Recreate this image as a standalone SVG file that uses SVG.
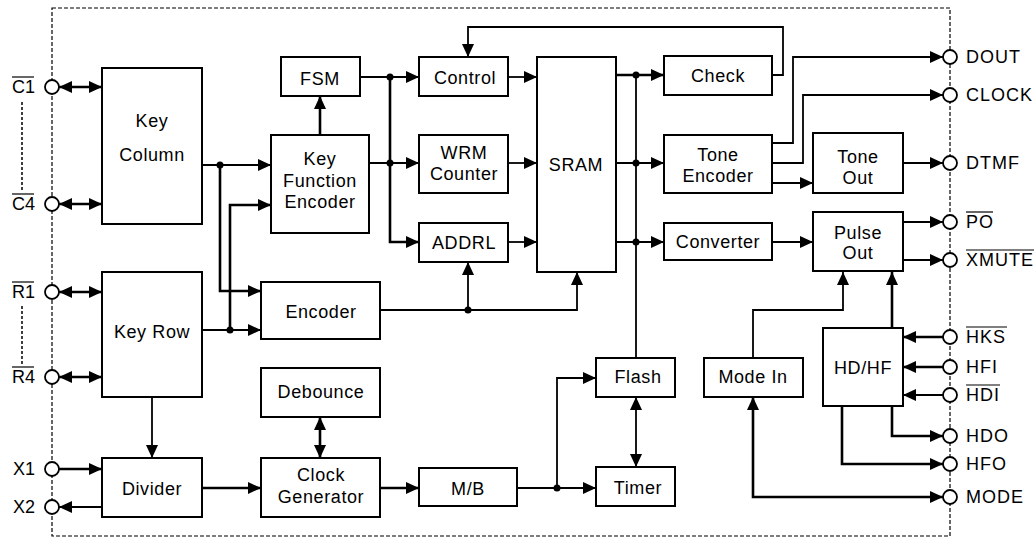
<svg xmlns="http://www.w3.org/2000/svg" width="1034" height="538" viewBox="0 0 1034 538">
<style>
.b{fill:#fff;stroke:#000;stroke-width:2}
.t{font-family:"Liberation Sans",Arial,sans-serif;font-size:18px;letter-spacing:0.6px;fill:#000;text-anchor:middle}
.p{font-family:"Liberation Sans",Arial,sans-serif;font-size:18px;letter-spacing:1px;fill:#000}
.l{font-family:"Liberation Sans",Arial,sans-serif;font-size:18px;fill:#000;text-anchor:end}
.c{fill:none;stroke:#000;stroke-width:1.8}
.k{stroke-width:2.6}
.a{marker-end:url(#ah)}
.s{marker-start:url(#ah)}
.pin{fill:#fff;stroke:#000;stroke-width:1.8}
.d{fill:#000}
.ol{stroke:#000;stroke-width:1.2}
</style>
<defs>
<marker id="ah" markerUnits="userSpaceOnUse" markerWidth="13" markerHeight="12" refX="13" refY="6" orient="auto-start-reverse">
<path d="M0,0 L13,6 L0,12 z" fill="#000"/>
</marker>
</defs>
<rect x="52" y="8" width="898" height="528" fill="none" stroke="#000" stroke-width="1.2" stroke-dasharray="4,2"/>
<g id="connectors">
<path class="c k a s" d="M59,87 H102"/>
<path class="c k a s" d="M59,204 H102"/>
<path class="c k a s" d="M59,292 H102"/>
<path class="c k a s" d="M59,377 H102"/>
<path class="c k a" d="M59,469 H102"/>
<path class="c a" d="M102,507 H59"/>
<path class="c a" d="M152,397 V458"/>
<path class="c a" d="M202,165 H271"/>
<path class="c k a" d="M220,165 V291 H261"/>
<path class="c a" d="M202,330 H261"/>
<path class="c k a" d="M230,330 V205 H271"/>
<path class="c k a" d="M320,135 V96"/>
<path class="c a" d="M360,77 H419"/>
<path class="c a" d="M369,163 H419"/>
<path class="c k a" d="M390,77 V242 H419"/>
<path class="c a" d="M508,77 H537"/>
<path class="c a" d="M508,163 H537"/>
<path class="c a" d="M508,242 H537"/>
<path class="c a" d="M380,310 H577 V272"/>
<path class="c a" d="M468,310 V262"/>
<path class="c k a" d="M616,75 H664"/>
<path class="c a" d="M616,163 H664"/>
<path class="c a" d="M616,242 H664"/>
<path class="c" d="M636,75 V358"/>
<path class="c a" d="M772,75 H783 V27 H468 V57"/>
<path class="c a" d="M772,143 H793 V57 H943"/>
<path class="c a" d="M772,163 H803 V95 H943"/>
<path class="c a" d="M772,183 H813"/>
<path class="c a" d="M903,163 H943"/>
<path class="c a" d="M772,242 H813"/>
<path class="c a" d="M903,222 H943"/>
<path class="c a" d="M903,260 H943"/>
<path class="c k a" d="M202,488 H261"/>
<path class="c k a s" d="M320,417 V458"/>
<path class="c k a" d="M380,488 H419"/>
<path class="c a" d="M517,488 H596"/>
<path class="c a" d="M557,488 V378 H596"/>
<path class="c a s" d="M636,397 V467"/>
<path class="c a" d="M753,358 V310 H843 V272"/>
<path class="c k a s" d="M753,397 V497 H943"/>
<path class="c k a" d="M892,328 V272"/>
<path class="c k a" d="M943,337 H903"/>
<path class="c k a" d="M943,367 H903"/>
<path class="c a" d="M943,395 H903"/>
<path class="c k a" d="M892,406 V436 H943"/>
<path class="c k a" d="M842,406 V464 H943"/>
<circle class="d" cx="220" cy="165" r="3.5"/>
<circle class="d" cx="230" cy="330" r="3.5"/>
<circle class="d" cx="390" cy="77" r="3.5"/>
<circle class="d" cx="390" cy="163" r="3.5"/>
<circle class="d" cx="468" cy="310" r="3.5"/>
<circle class="d" cx="636" cy="75" r="3.5"/>
<circle class="d" cx="636" cy="163" r="3.5"/>
<circle class="d" cx="636" cy="242" r="3.5"/>
<circle class="d" cx="557" cy="488" r="3.5"/>
<line x1="22" y1="102" x2="22" y2="190" stroke="#000" stroke-width="1.5" stroke-dasharray="3,2"/>
<line x1="22" y1="306" x2="22" y2="364" stroke="#000" stroke-width="1.5" stroke-dasharray="3,2"/>
</g>
<g id="pins-left">
<circle class="pin" cx="52" cy="87" r="7"/>
<circle class="pin" cx="52" cy="204" r="7"/>
<circle class="pin" cx="52" cy="292" r="7"/>
<circle class="pin" cx="52" cy="377" r="7"/>
<circle class="pin" cx="52" cy="469" r="7"/>
<circle class="pin" cx="52" cy="507" r="7"/>
<text class="l" x="35" y="93">C1</text><line class="ol" x1="12" y1="77" x2="34" y2="77"/>
<text class="l" x="35" y="210">C4</text><line class="ol" x1="12" y1="194" x2="34" y2="194"/>
<text class="l" x="35" y="298">R1</text><line class="ol" x1="12" y1="282" x2="34" y2="282"/>
<text class="l" x="35" y="383">R4</text><line class="ol" x1="12" y1="367" x2="34" y2="367"/>
<text class="l" x="35" y="475">X1</text>
<text class="l" x="35" y="513">X2</text>
</g>
<g id="pins-right">
<circle class="pin" cx="950" cy="57" r="7"/>
<circle class="pin" cx="950" cy="95" r="7"/>
<circle class="pin" cx="950" cy="163" r="7"/>
<circle class="pin" cx="950" cy="222" r="7"/>
<circle class="pin" cx="950" cy="260" r="7"/>
<circle class="pin" cx="950" cy="337" r="7"/>
<circle class="pin" cx="950" cy="367" r="7"/>
<circle class="pin" cx="950" cy="395" r="7"/>
<circle class="pin" cx="950" cy="436" r="7"/>
<circle class="pin" cx="950" cy="464" r="7"/>
<circle class="pin" cx="950" cy="497" r="7"/>
<text class="p" x="966" y="63">DOUT</text>
<text class="p" x="966" y="101">CLOCK</text>
<text class="p" x="966" y="169">DTMF</text>
<text class="p" x="966" y="228">PO</text><line class="ol" x1="966" y1="212" x2="993" y2="212"/>
<text class="p" x="966" y="266">XMUTE</text><line class="ol" x1="966" y1="250" x2="1034" y2="250"/>
<text class="p" x="966" y="343">HKS</text><line class="ol" x1="966" y1="327" x2="1007" y2="327"/>
<text class="p" x="966" y="373">HFI</text>
<text class="p" x="966" y="401">HDI</text><line class="ol" x1="966" y1="385" x2="1000" y2="385"/>
<text class="p" x="966" y="442">HDO</text>
<text class="p" x="966" y="470">HFO</text>
<text class="p" x="966" y="503">MODE</text>
</g>
<g id="key-column"><rect class="b" x="102" y="68" width="100" height="156"/><text class="t" x="152" y="127">Key</text><text class="t" x="152" y="161">Column</text></g>
<g id="key-row"><rect class="b" x="102" y="272" width="100" height="125"/><text class="t" x="152" y="338">Key Row</text></g>
<g id="divider"><rect class="b" x="102" y="458" width="100" height="59"/><text class="t" x="152" y="495">Divider</text></g>
<g id="kfe"><rect class="b" x="271" y="135" width="98" height="98"/><text class="t" x="320" y="165">Key</text><text class="t" x="320" y="187">Function</text><text class="t" x="320" y="208">Encoder</text></g>
<g id="fsm"><rect class="b" x="281" y="57" width="79" height="39"/><text class="t" x="320" y="85">FSM</text></g>
<g id="control"><rect class="b" x="419" y="57" width="89" height="39"/><text class="t" x="465" y="84">Control</text></g>
<g id="wrm"><rect class="b" x="419" y="135" width="89" height="58"/><text class="t" x="464" y="159">WRM</text><text class="t" x="464" y="180">Counter</text></g>
<g id="addrl"><rect class="b" x="419" y="223" width="89" height="39"/><text class="t" x="464" y="249">ADDRL</text></g>
<g id="sram"><rect class="b" x="537" y="57" width="79" height="215"/><text class="t" x="576" y="171">SRAM</text></g>
<g id="check"><rect class="b" x="664" y="56" width="108" height="39"/><text class="t" x="718" y="82">Check</text></g>
<g id="tone-encoder"><rect class="b" x="664" y="135" width="108" height="58"/><text class="t" x="718" y="161">Tone</text><text class="t" x="718" y="182">Encoder</text></g>
<g id="converter"><rect class="b" x="664" y="223" width="108" height="37"/><text class="t" x="718" y="248">Converter</text></g>
<g id="tone-out"><rect class="b" x="813" y="133" width="90" height="60"/><text class="t" x="858" y="163">Tone</text><text class="t" x="858" y="184">Out</text></g>
<g id="pulse-out"><rect class="b" x="813" y="212" width="90" height="59"/><text class="t" x="858" y="239">Pulse</text><text class="t" x="858" y="259">Out</text></g>
<g id="encoder"><rect class="b" x="261" y="282" width="119" height="57"/><text class="t" x="321" y="318">Encoder</text></g>
<g id="debounce"><rect class="b" x="261" y="368" width="119" height="49"/><text class="t" x="321" y="398">Debounce</text></g>
<g id="clock-gen"><rect class="b" x="261" y="458" width="119" height="59"/><text class="t" x="321" y="481">Clock</text><text class="t" x="321" y="503">Generator</text></g>
<g id="mb"><rect class="b" x="419" y="468" width="98" height="38"/><text class="t" x="468" y="495">M/B</text></g>
<g id="flash"><rect class="b" x="596" y="358" width="79" height="39"/><text class="t" x="638" y="383">Flash</text></g>
<g id="timer"><rect class="b" x="596" y="467" width="79" height="39"/><text class="t" x="638" y="494">Timer</text></g>
<g id="mode-in"><rect class="b" x="704" y="358" width="99" height="39"/><text class="t" x="753" y="383">Mode In</text></g>
<g id="hdhf"><rect class="b" x="823" y="328" width="80" height="78"/><text class="t" x="863" y="374">HD/HF</text></g>
</svg>
